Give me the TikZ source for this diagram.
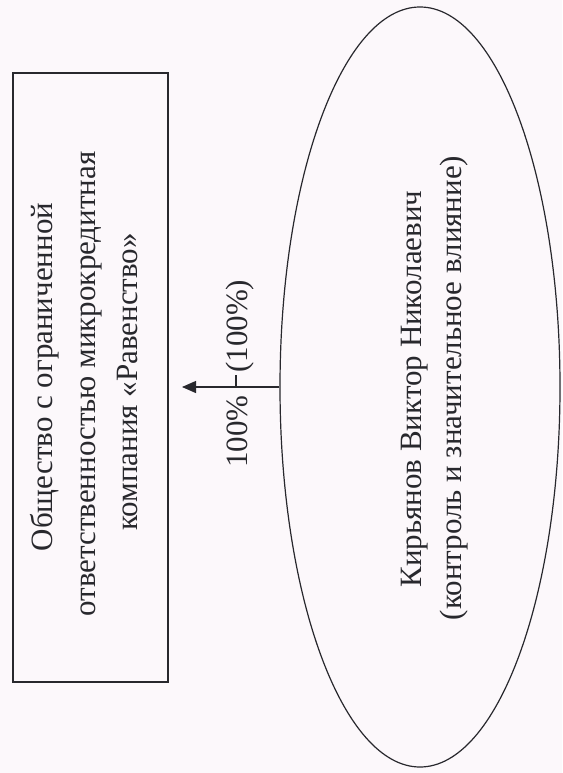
\documentclass[tikz,border=0pt]{standalone}
\usepackage{fontspec}
\setmainfont{Liberation Serif}
\usetikzlibrary{shapes.geometric,arrows.meta}
\definecolor{paper}{RGB}{252,248,251}
\definecolor{ink}{RGB}{40,40,45}
\begin{document}
\begin{tikzpicture}[x=1pt,y=-1pt,
  txt/.style={font=\fontsize{31}{42}\selectfont, text=ink, rotate=90, anchor=base, inner sep=0pt},
  shape line/.style={draw=ink, line width=1.2pt}]
\fill[paper] (0,0) rectangle (562,773);
\useasboundingbox (0,0) rectangle (562,773);
% company box
\node (org) [shape line, rectangle, minimum width=155pt, minimum height=609pt, inner sep=0pt]
  at (90.5,377.5) {};
\node (orgA) [txt] at (52,377) {Общество с ограниченной};
\node (orgB) [txt] at (95,384) {ответственностью микрокредитная};
\node (orgC) [txt] at (137,382) {компания «Равенство»};
% person ellipse
\node (person) [shape line, ellipse, minimum width=280pt, minimum height=760pt, inner sep=0pt]
  at (420,387) {};
\node (personA) [txt] at (421,389) {Кирьянов Виктор Николаевич};
\node (personB) [txt] at (461,388) {(контроль и значительное влияние)};
% ownership arrow
\coordinate (tip) at (182,387);
\draw[ink, line width=1.2pt, -{Triangle[length=14pt,width=12pt]}] (person.west) -- (tip);
\coordinate (tickA) at (236,375);
\coordinate (tickB) at (236,387);
\draw[ink, line width=1.1pt] (tickA) -- (tickB);
\node (share) [txt, anchor=base east] at (247,395) {100\%};
\node (sharep) [txt, anchor=base west] at (247,373) {(100\%)};
\end{tikzpicture}
\end{document}
